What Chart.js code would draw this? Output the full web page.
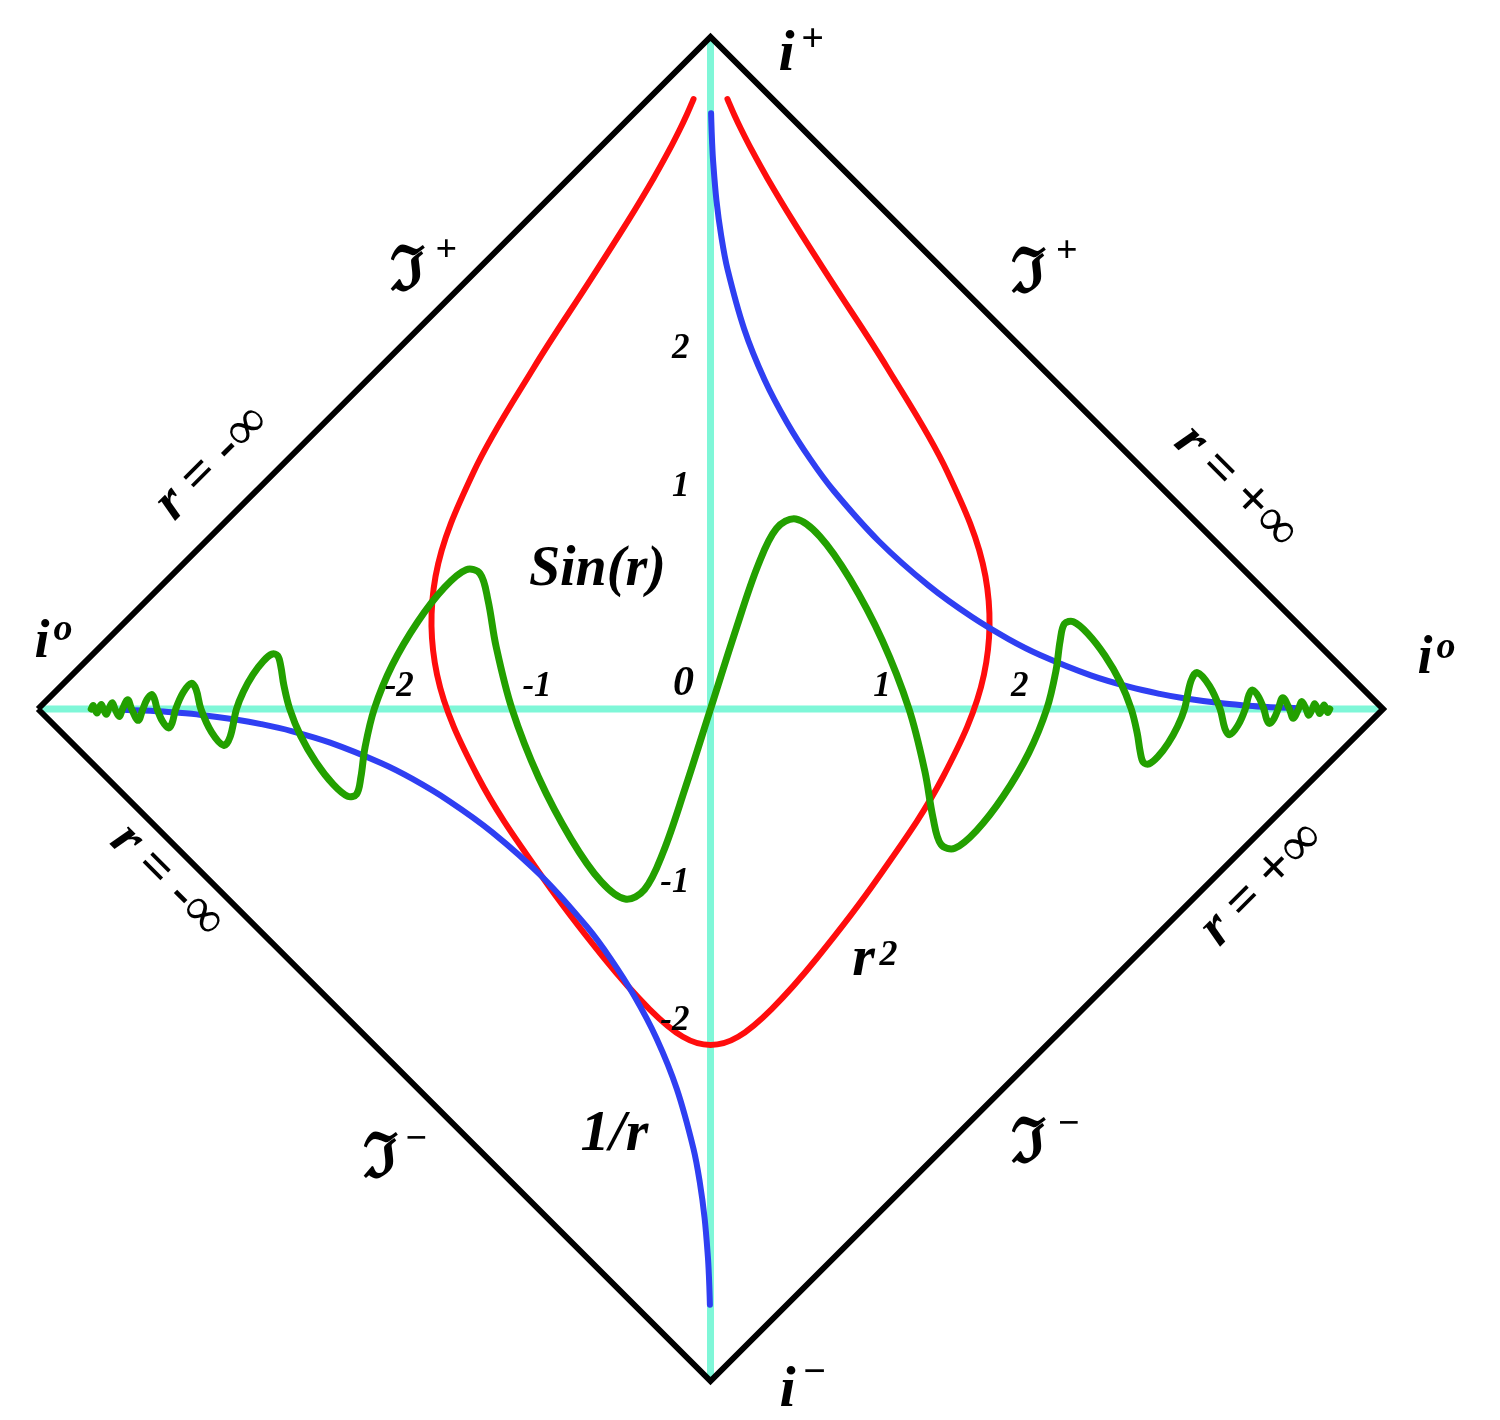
<!DOCTYPE html>
<html><head><meta charset="utf-8">
<script src="https://cdn.jsdelivr.net/npm/chart.js@4.4.1/dist/chart.umd.min.js"></script>
<style>html,body{margin:0;padding:0;background:#fff;}#wrap{width:1500px;height:1420px;}</style>
</head><body><div id="wrap"><canvas id="c" width="1500" height="1420"></canvas></div>
<script>
// ---- Data (r = space coordinate, t = curve value) ----
// Sin(r) curve (drawn as t = sin(pi r) in the picture's units)
const sinR = [-16,-15.5,-15,-14.5,-14,-13.5,-13,-12.5,-12,-11.5,-11,-10.5,-10,-9.5,-9,-8.5,
  -8,-7.75,-7.5,-7.25,-7,-6.75,-6.5,-6.25,-6,-5.75,-5.5,-5.25,-5,-4.75,-4.5,-4.25,
  -4,-3.875,-3.75,-3.625,-3.5,-3.375,-3.25,-3.125,-3,-2.875,-2.75,-2.625,-2.5,-2.375,-2.25,-2.125,
  -2,-1.875,-1.75,-1.625,-1.5,-1.375,-1.25,-1.125,-1,-0.875,-0.75,-0.625,-0.5,-0.375,-0.25,-0.125,
  0,0.125,0.25,0.375,0.5,0.625,0.75,0.875,1,1.125,1.25,1.375,1.5,1.625,1.75,1.875,
  2,2.125,2.25,2.375,2.5,2.625,2.75,2.875,3,3.125,3.25,3.375,3.5,3.625,3.75,3.875,4,
  4.25,4.5,4.75,5,5.25,5.5,5.75,6,6.25,6.5,6.75,7,7.25,7.5,7.75,8,
  8.5,9,9.5,10,10.5,11,11.5,12,12.5,13,13.5,14,14.5,15,15.5,16];
const sinT = [0,1,0,-1,0,1,0,-1,0,1,0,-1,0,1,0,-1,
  0,0.707,1,0.707,0,-0.707,-1,-0.707,0,0.707,1,0.707,0,-0.707,-1,-0.707,
  0,0.383,0.707,0.924,1,0.924,0.707,0.383,0,-0.383,-0.707,-0.924,-1,-0.924,-0.707,-0.383,
  0,0.383,0.707,0.924,1,0.924,0.707,0.383,0,-0.383,-0.707,-0.924,-1,-0.924,-0.707,-0.383,
  0,0.383,0.707,0.924,1,0.924,0.707,0.383,0,-0.383,-0.707,-0.924,-1,-0.924,-0.707,-0.383,
  0,0.383,0.707,0.924,1,0.924,0.707,0.383,0,-0.383,-0.707,-0.924,-1,-0.924,-0.707,-0.383,0,
  0.707,1,0.707,0,-0.707,-1,-0.707,0,0.707,1,0.707,0,-0.707,-1,-0.707,0,
  1,0,-1,0,1,0,-1,0,1,0,-1,0,1,0,-1,0];
// r^2 curve (shifted parabola as drawn)
const sqR = [-4.1,-4,-3.75,-3.5,-3.25,-3,-2.75,-2.5,-2.25,-2,-1.75,-1.5,-1.25,-1,-0.75,-0.5,-0.25,0,
  0.25,0.5,0.75,1,1.25,1.5,1.75,2,2.25,2.5,2.75,3,3.25,3.5,3.75,4,4.1];
const sqT = [14.81,14,12.06,10.25,8.56,7,5.56,4.25,3.06,2,1.06,0.25,-0.44,-1,-1.44,-1.75,-1.94,-2,
  -1.94,-1.75,-1.44,-1,-0.44,0.25,1.06,2,3.06,4.25,5.56,7,8.56,10.25,12.06,14,14.81];
// 1/r curve, two branches
const invRPos = [0.09,0.1,0.125,0.15,0.2,0.25,0.3,0.4,0.5,0.6,0.7,0.8,1,1.25,1.5,1.75,2,2.5,3,3.5,4,5,6,7,8,10];
const invTPos = [11.11,10,8,6.67,5,4,3.33,2.5,2,1.67,1.43,1.25,1,0.8,0.667,0.571,0.5,0.4,0.333,0.286,0.25,0.2,0.167,0.143,0.125,0.1];
const invRNeg = [-10,-8,-7,-6,-5,-4,-3.5,-3,-2.5,-2,-1.75,-1.5,-1.25,-1,-0.8,-0.7,-0.6,-0.5,-0.4,-0.3,-0.25,-0.2,-0.15,-0.125,-0.1,-0.09];
const invTNeg = [-0.1,-0.125,-0.143,-0.167,-0.2,-0.25,-0.286,-0.333,-0.4,-0.5,-0.571,-0.667,-0.8,-1,-1.25,-1.43,-1.67,-2,-2.5,-3.33,-4,-5,-6.67,-8,-10,-11.11];
// Tick labels
const xTickVals = [-2,-1,1,2];
const xTickLabels = ['-2','-1','1','2'];
const yTickVals = [2,1,-1,-2];
const yTickLabels = ['2','1','-1','-2'];
// Boundary of the compactified diagram (i0, i+, i0, i-) in diagram units of pi
const boundaryX = [-1,0,1,0,-1];
const boundaryY = [0,1,0,-1,0];

// ---- Conformal compactification (diagram coordinate mapping) ----
function compact(r,t){
  const a = Math.atan((t + r)/2), b = Math.atan((t - r)/2);
  return {x: a - b, y: a + b};
}
const build = (R,T) => R.map((r,i)=>compact(r,T[i]));
const PI = Math.PI;

const SERIF = "'Liberation Serif','Times New Roman',serif";
const BI = s => 'bold italic ' + s + 'px ' + SERIF;
const B = s => 'bold ' + s + 'px ' + SERIF;
const N = s => s + 'px ' + SERIF;
const FRAK = s => 'bold ' + s + "px 'DejaVu Serif',serif";

// annotation texts: position in fractions of diamond half-size
const texts = [
  {t:'i', fx:0.1131, fy:0.9509, font:BI(58)},
  {t:'+', fx:0.1518, fy:0.9792, font:B(40)},
  {t:'i', fx:0.1146, fy:-1.0372, font:BI(58)},
  {t:'\u2212', fx:0.1548, fy:-1.0045, font:B(40)},
  {t:'i', fx:-0.994, fy:0.0774, font:BI(54)},
  {t:'o', fx:-0.9628, fy:0.1027, font:'bold italic 38px '+SERIF},
  {t:'i', fx:1.0625, fy:0.0536, font:BI(54)},
  {t:'o', fx:1.0938, fy:0.0759, font:'bold italic 38px '+SERIF},
  {t:'\u2111', fx:-0.4509, fy:0.6235, font:FRAK(62)},
  {t:'+', fx:-0.3929, fy:0.6667, font:B(38)},
  {t:'\u2111', fx:0.4732, fy:0.6205, font:FRAK(62)},
  {t:'+', fx:0.5297, fy:0.6652, font:B(38)},
  {t:'\u2111', fx:-0.4911, fy:-0.6964, font:FRAK(62)},
  {t:'\u2212', fx:-0.4375, fy:-0.6563, font:B(38)},
  {t:'\u2111', fx:0.4732, fy:-0.6741, font:FRAK(62)},
  {t:'\u2212', fx:0.5327, fy:-0.6339, font:B(38)},
  {t:'Sin(r)', fx:-0.1682, fy:0.1845, font:BI(56)},
  {t:'r', fx:0.2277, fy:-0.3958, font:BI(58)},
  {t:'2', fx:0.2648, fy:-0.381, font:BI(36)},
  {t:'1/r', fx:-0.1429, fy:-0.6563, font:BI(58)}
];
const infLabels = [
  {fx:-0.7396, fy:0.3661, rot:-45, sign:'-'},
  {fx:0.7813, fy:0.3289, rot:45, sign:'+'},
  {fx:-0.808, fy:-0.2574, rot:45, sign:'-'},
  {fx:0.8214, fy:-0.2604, rot:-45, sign:'+'}
];

const annot = {
  id:'annot',
  afterDatasetsDraw(chart){
    const ctx = chart.ctx, xs = chart.scales.x, ys = chart.scales.y;
    const px = v => xs.getPixelForValue(v), py = v => ys.getPixelForValue(v);
    ctx.save();
    ctx.fillStyle = '#000';
    ctx.textBaseline = 'alphabetic';
    ctx.textAlign = 'center';
    texts.forEach(o=>{ ctx.font = o.font; ctx.fillText(o.t, px(o.fx*PI), py(o.fy*PI)); });
    // rotated r = +-inf labels
    infLabels.forEach(o=>{
      const parts = [{t:'r', f:BI(56)}, {t:' = ', f:B(54)}, {t:o.sign==='-'?'-':'+', f:B(56)}, {t:'\u221E', f:N(56)}];
      let w = 0; parts.forEach(p=>{ctx.font=p.f; p.w = ctx.measureText(p.t).width; w += p.w;});
      ctx.save();
      ctx.translate(px(o.fx*PI), py(o.fy*PI));
      ctx.rotate(o.rot*PI/180);
      ctx.textAlign = 'left';
      let x = -w/2;
      parts.forEach(p=>{ ctx.font = p.f; ctx.fillText(p.t, x, 14); x += p.w; });
      ctx.restore();
    });
    // tick labels
    const x0 = px(0), y0 = py(0);
    ctx.font = BI(35);
    ctx.textAlign = 'center';
    xTickVals.forEach((v,i)=>{
      const p = compact(v,0);
      ctx.fillText(xTickLabels[i], px(p.x) + (v>0?-27:25), y0 - 13);
    });
    ctx.textAlign = 'right';
    yTickVals.forEach((v,i)=>{
      const p = compact(0,v);
      ctx.fillText(yTickLabels[i], x0 - 21, py(p.y) - 15);
    });
    ctx.font = BI(42);
    ctx.textAlign = 'center';
    ctx.fillText('0', x0 - 27, y0 - 14);
    ctx.restore();
  }
};

const lineDs = (data, color, width, order, extra) => Object.assign({
  data, borderColor: color, borderWidth: width, showLine: true, pointRadius: 0,
  tension: 0.35, fill: false, order, borderCapStyle: 'round', borderJoinStyle: 'round', clip: false
}, extra||{});

new Chart(document.getElementById('c'), {
  type: 'scatter',
  data: { datasets: [
    lineDs(build(sinR, sinT), '#23a000', 7, 1),
    lineDs(build(invRPos, invTPos), '#2f3ff2', 6, 2),
    lineDs(build(invRNeg, invTNeg), '#2f3ff2', 6, 2),
    lineDs(build(sqR, sqT), '#ff0d0d', 6, 3),
    lineDs(boundaryX.map((v,i)=>({x:v*PI, y:boundaryY[i]*PI})), '#000', 6, 4, {tension:0, borderJoinStyle:'miter', borderCapStyle:'butt'}),
    lineDs([{x:-PI,y:0},{x:PI,y:0}], '#7ff7d8', 7, 5, {tension:0, borderCapStyle:'butt'}),
    lineDs([{x:0,y:-PI},{x:0,y:PI}], '#7ff7d8', 7, 5, {tension:0, borderCapStyle:'butt'})
  ]},
  options: {
    responsive: false, animation: false, devicePixelRatio: 1,
    layout: { padding: {left: 38, right: 117, top: 37, bottom: 39} },
    scales: {
      x: {type:'linear', min:-PI, max:PI, display:false},
      y: {type:'linear', min:-PI, max:PI, display:false}
    },
    plugins: { legend:{display:false}, tooltip:{enabled:false} }
  },
  plugins: [annot]
});
</script></body></html>
